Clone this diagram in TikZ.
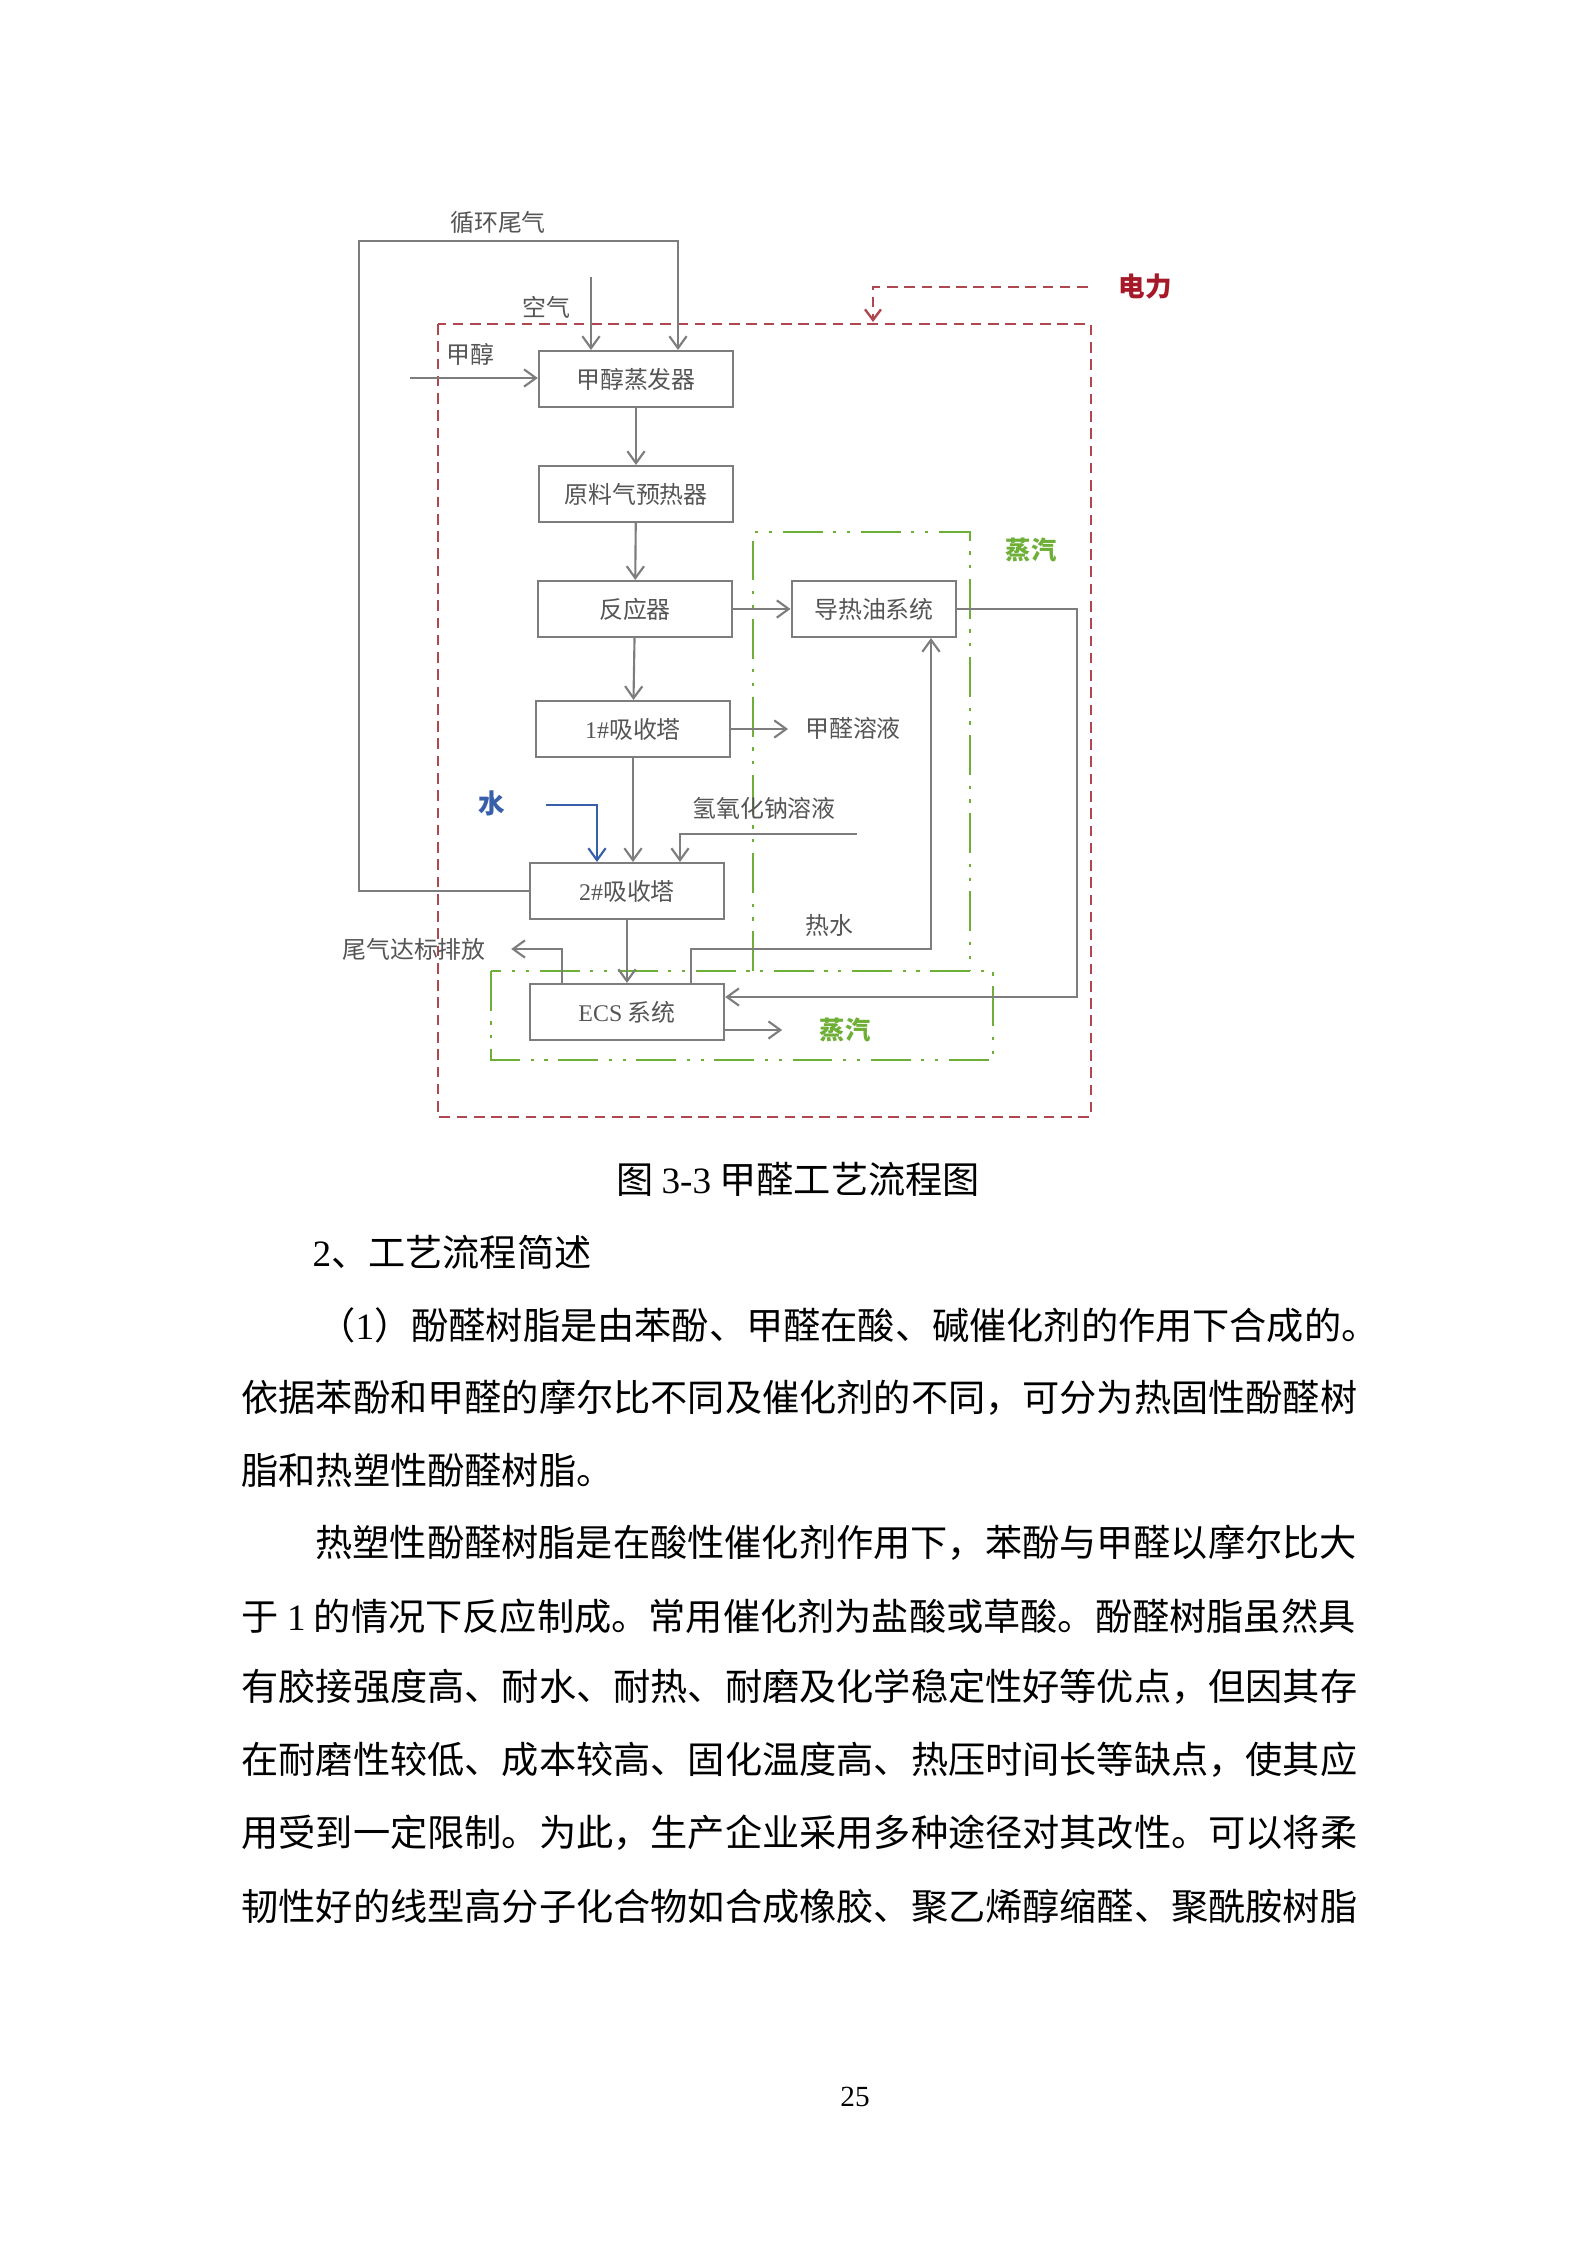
\documentclass[tikz,border=0pt]{standalone}
\usepackage{fontspec}
\setmainfont{Liberation Serif}
\newfontfamily\cjk{Noto Sans CJK SC}
\usetikzlibrary{arrows.meta}
\definecolor{LineGray}{RGB}{125,125,125}
\definecolor{TextGray}{RGB}{85,85,85}
\definecolor{PowerRed}{RGB}{165,25,40}
\definecolor{PlantRed}{RGB}{175,70,80}
\definecolor{SteamGreen}{RGB}{110,175,55}
\definecolor{WaterBlue}{RGB}{55,95,170}
\newcommand{\lat}[1]{{\rmfamily #1}}

\begin{document}
\begin{tikzpicture}[
    x=0.013233cm, y=-0.013233cm,
    font=\cjk,
    box/.style={draw=LineGray, line width=0.8pt, minimum width=2.57cm,
        minimum height=0.74cm, inner sep=0pt, text=TextGray,
        font=\cjk\fontsize{9}{10}\selectfont},
    lbl/.style={text=TextGray, inner sep=0pt, font=\cjk\fontsize{9}{10}\selectfont},
    steamlbl/.style={text=SteamGreen, inner sep=0pt, font=\cjk\bfseries\fontsize{9.5}{10}\selectfont},
    flow/.style={-{Straight Barb[length=4.5pt, width=6.5pt]}, draw=LineGray, line width=0.8pt},
    zone/.style={draw=SteamGreen, line width=1pt,
        dash pattern=on 15pt off 4pt on 1.2pt off 4pt on 1.2pt off 4pt},
    plant/.style={draw=PlantRed, line width=0.9pt, dash pattern=on 4pt off 2.5pt},
    body/.style={anchor=west, inner sep=0pt, font=\cjk\fontsize{14}{14}\selectfont},
]
\useasboundingbox (0,0) rectangle (1587,2245);

% --- zonas: planta (rojo) y vapor (verde) ---
\draw[plant] (438,324) rectangle (1091,1117);
\draw[zone] (753,971) -- (753,532) -- (970,532) -- (970,971);
\draw[zone] (491,971) rectangle (993,1060);

% --- equipos ---
\node[box] (evap)    at (636,379) {甲醇蒸发器};
\node[box] (preheat) at (636,494) {原料气预热器};
\node[box] (reactor) at (635,609) {反应器};
\node[box] (abs1)    at (633,729) {\lat{1\#}吸收塔};
\node[box] (abs2)    at (627,891) {\lat{2\#}吸收塔};
\node[box] (ecs)     at (627,1012) {\lat{ECS} 系统};
\node[box, minimum width=2.18cm] (oil) at (874,609) {导热油系统};

% --- etiquetas ---
\node[lbl] (recycle) at (498,222) {循环尾气};
\node[lbl] (air)     at (546,307) {空气};
\node[lbl] (meth)    at (470,354) {甲醇};
\node[lbl] (hcho)    at (853,728) {甲醛溶液};
\node[lbl, text=WaterBlue, font=\cjk\bfseries\fontsize{10}{10}\selectfont] (water) at (492,803) {水};
\node[lbl] (naoh)    at (764,808) {氢氧化钠溶液};
\node[lbl] (hotw)    at (829,925) {热水};
\node[lbl] (tail)    at (414,949) {尾气达标排放};
\node[steamlbl] (steam1) at (1031,550) {蒸汽};
\node[steamlbl] (steam2) at (845,1030) {蒸汽};
\node[text=PowerRed, inner sep=0pt, font=\cjk\bfseries\fontsize{10}{10}\selectfont] (power) at (1145,287) {电力};

\coordinate (loopTop) at (359,241);
\coordinate (recIn)   at (678,0);
\coordinate (airIn)   at (591,277);
\coordinate (methIn)  at (410,378);
\coordinate (waterIn) at (546,805);
\coordinate (waterTo) at (597,0);
\coordinate (naohIn)  at (857,834);
\coordinate (naohTo)  at (680,0);
\coordinate (tailUp)  at (562,0);
\coordinate (hotOut)  at (691,949);
\coordinate (hotTurn) at (931,949);
\coordinate (oilBack) at (1077,997);
\coordinate (pwrIn)   at (873,322);

% --- flujos ---
\draw[flow] (abs2.west) -| (loopTop) -| (recIn |- evap.north);
\draw[flow] (airIn) -- (airIn |- evap.north);
\draw[flow] (methIn) -- (methIn -| evap.west);
\draw[flow] (evap) -- (preheat);
\draw[flow] (preheat) -- (reactor);
\draw[flow] (reactor) -- (abs1);
\draw[flow] (reactor) -- (oil);
\draw[flow, shorten >=0.22cm] (abs1.east) -- (abs1.east -| hcho.west);
\draw[flow] (abs1.south) -- (abs1.south |- abs2.north);
\draw[flow, draw=WaterBlue] (waterIn) -| (waterTo |- abs2.north);
\draw[flow] (naohIn) -| (naohTo |- abs2.north);
\draw[flow] (abs2.south) -- (abs2.south |- ecs.north);
\draw[flow, shorten >=0.33cm] (tailUp |- ecs.north) |- (tail.east);
\draw[flow] (hotOut |- ecs.north) -- (hotOut) -- (hotTurn) -- (hotTurn |- oil.south);
\draw[flow] (oil.east) -| (oilBack) -- (ecs.east |- oilBack);
\draw[flow, shorten >=0.49cm] (ecs.east |- steam2) -- (steam2.west);
\draw[plant, -{Straight Barb[length=4pt, width=6pt]}] ([xshift=-0.4cm]power.west) -| (pwrIn);

% --- texto de la página ---
\node[inner sep=0pt, font=\cjk\fontsize{14}{14}\selectfont] (caption) at (798,1179) {图 \lat{3-3} 甲醛工艺流程图};
\node[body] (head) at (312,1252) {\lat{2}、工艺流程简述};
\node[body] (l1) at (318,1325) {（\lat{1}）酚醛树脂是由苯酚、甲醛在酸、碱催化剂的作用下合成的。};
\node[body] (l2) at (241,1398) {依据苯酚和甲醛的摩尔比不同及催化剂的不同，可分为热固性酚醛树};
\node[body] (l3) at (241,1470) {脂和热塑性酚醛树脂。};
\node[body] (l4) at (315,1543) {热塑性酚醛树脂是在酸性催化剂作用下，苯酚与甲醛以摩尔比大};
\node[body] (l5) at (241,1616) {于 \lat{1} 的情况下反应制成。常用催化剂为盐酸或草酸。酚醛树脂虽然具};
\node[body] (l6) at (241,1687) {有胶接强度高、耐水、耐热、耐磨及化学稳定性好等优点，但因其存};
\node[body] (l7) at (241,1760) {在耐磨性较低、成本较高、固化温度高、热压时间长等缺点，使其应};
\node[body] (l8) at (241,1833) {用受到一定限制。为此，生产企业采用多种途径对其改性。可以将柔};
\node[body] (l9) at (241,1906) {韧性好的线型高分子化合物如合成橡胶、聚乙烯醇缩醛、聚酰胺树脂};
\node[inner sep=0pt, font=\rmfamily\fontsize{11}{11}\selectfont] (pageno) at (855,2097) {25};

\end{tikzpicture}
\end{document}
